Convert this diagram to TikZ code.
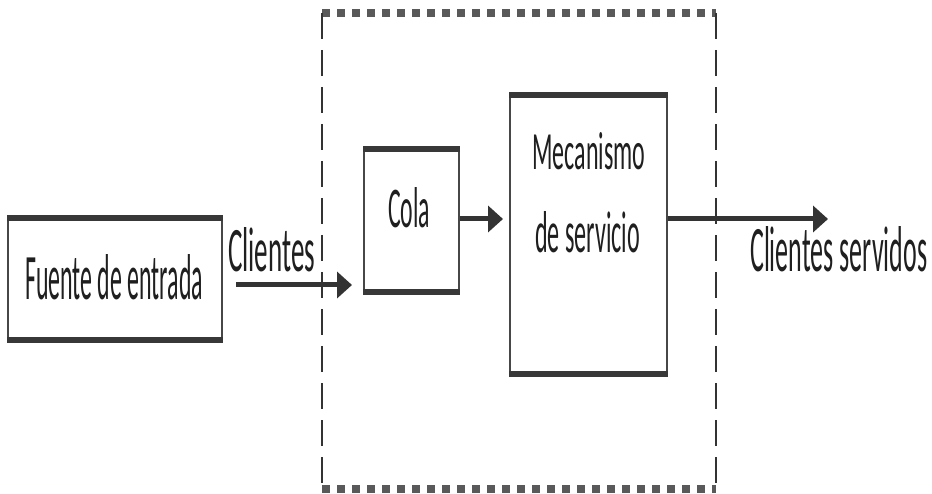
\documentclass[tikz,border=0pt]{standalone}
\usepackage{fontspec}
\setmainfont{Carlito}
\usetikzlibrary{arrows.meta}

% condensed label: fixed width and height of the printed text
\newcommand\narrowtext[3]{\resizebox{#1}{#2}{#3}}

\tikzset{
  block/.style={draw=black!72, line width=2pt, fill=white, inner sep=0pt},
  rim/.style={draw=black!78, line width=6pt},
  label/.style={inner sep=0pt, anchor=base west, text=black!88},
  flow/.style={draw=black!80, line width=5pt,
               -{Triangle[length=15pt,width=26pt]}},
  framev/.style={draw=black!80, line width=2.5pt, dash pattern=on 26pt off 11pt},
  frameh/.style={draw=black!65, line width=8pt, dash pattern=on 8pt off 7pt}
}

\begin{document}
\begin{tikzpicture}[x=1pt, y=-1pt]
  \useasboundingbox (0,0) rectangle (932,494);

  % dashed system boundary
  \coordinate (bnw) at (322,13);
  \coordinate (bne) at (716,13);
  \coordinate (bsw) at (322,489);
  \coordinate (bse) at (716,489);
  \draw[frameh] (bnw) -- (bne);
  \draw[frameh] (bsw) -- (bse);
  \draw[framev] (bnw) -- (bsw);
  \draw[framev] (bne) -- (bse);

  % blocks
  \node[block, minimum width=214pt, minimum height=120pt] (fuente) at (115,279) {};
  \node[block, minimum width=95pt, minimum height=141pt] (cola) at (411.5,220.5) {};
  \node[block, minimum width=157pt, minimum height=277pt] (mec) at (588.5,234.5) {};
  \foreach \b in {fuente,cola,mec}{
    \draw[rim] (\b.north west) -- (\b.north east);
    \draw[rim] (\b.south west) -- (\b.south east);
  }

  % texts
  \node[label] (tfuente) at (25,300) {\narrowtext{178pt}{45pt}{Fuente de entrada}};
  \node[label] (tcli) at (228,272) {\narrowtext{87pt}{44pt}{Clientes}};
  \node[label] (tcola) at (388,228) {\narrowtext{42pt}{40pt}{Cola}};
  \node[label] (tmec1) at (532,170) {\narrowtext{113pt}{37pt}{Mecanismo}};
  \node[label] (tmec2) at (535,253) {\narrowtext{105pt}{41pt}{de servicio}};
  \node[label] (tout) at (750,272) {\narrowtext{177pt}{45pt}{Clientes servidos}};

  % flows
  \coordinate (inA) at (236,285);
  \coordinate (inB) at (352,285);
  \coordinate (midB) at (503,219);
  \coordinate (outB) at (828,219);
  \draw[flow] (inA) -- (inB);
  \draw[flow] (cola.east |- midB) -- (midB);
  \draw[flow] (mec.east |- outB) -- (outB);
\end{tikzpicture}
\end{document}
